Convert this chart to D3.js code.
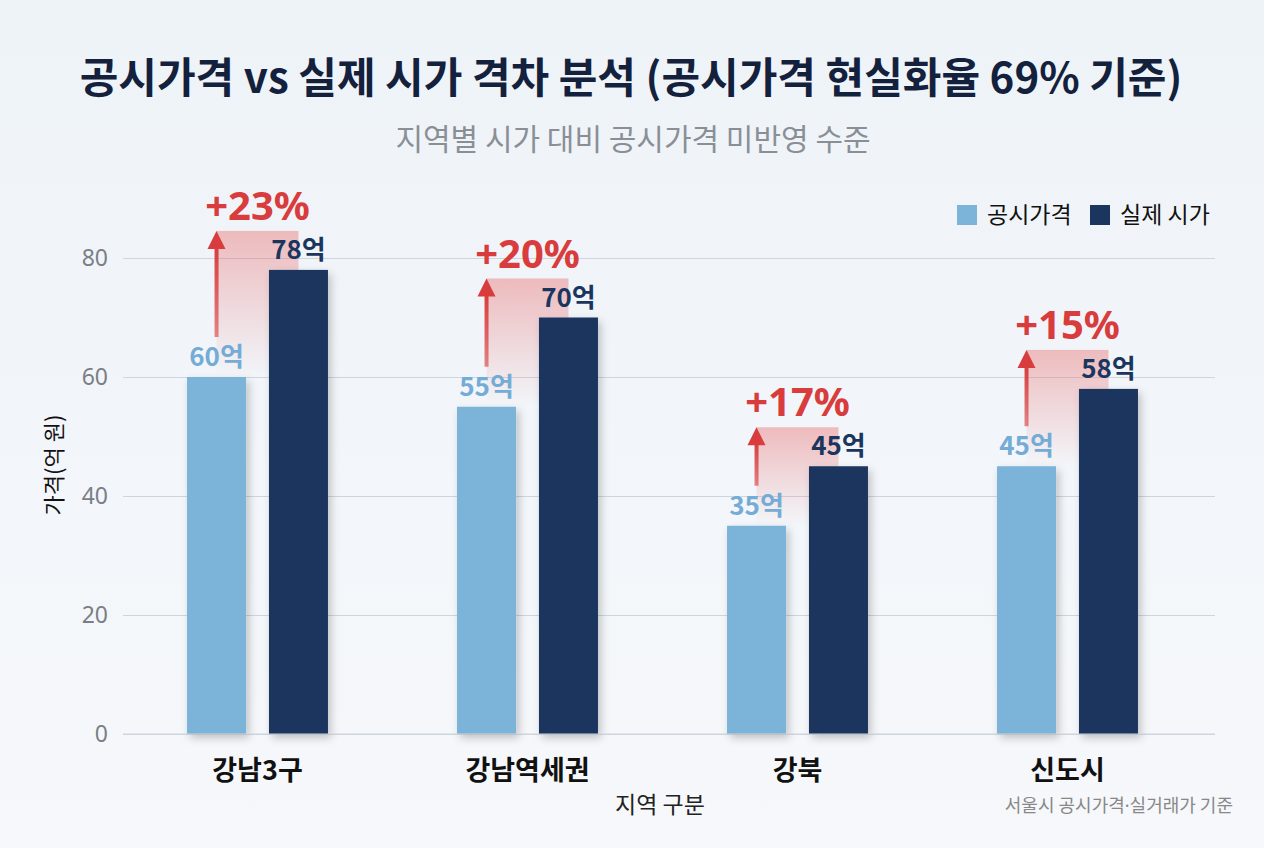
<!DOCTYPE html>
<html>
<head>
<meta charset="utf-8">
<script src="https://cdn.jsdelivr.net/npm/d3@7"></script>
<style>
  html, body { margin: 0; padding: 0; background: #f2f6fa; }
  svg { display: block; font-family: "Noto Sans CJK KR", "Noto Sans", sans-serif; }
</style>
</head>
<body>
<div id="chart"></div>
<script>
// chart values
const regions = ["강남3구", "강남역세권", "강북", "신도시"];
const seriesNames = ["공시가격", "실제 시가"];
const officialPrice = [60, 55, 35, 45];
const marketPrice = [78, 70, 45, 58];
const gapLabels = ["+23%", "+20%", "+17%", "+15%"];
const yTicks = [0, 20, 40, 60, 80];

const W = 1264, H = 848;
const colors = ["#7bb3d9", "#1b365e"];
const red = "#d83c3c";

const margin = { left: 123, right: 49 };
const gridRight = W - margin.right;

const svg = d3.select("#chart").append("svg")
    .attr("width", W)
    .attr("height", H);

const defs = svg.append("defs");
const bg = defs.append("linearGradient").attr("id", "bg").attr("x1", 0).attr("y1", 0).attr("x2", 0).attr("y2", 1);
bg.append("stop").attr("offset", "0%").attr("stop-color", "#eef3f8");
bg.append("stop").attr("offset", "100%").attr("stop-color", "#f6f8fb");

const pink = defs.append("linearGradient").attr("id", "pink").attr("x1", 0).attr("y1", 0).attr("x2", 0).attr("y2", 1);
pink.append("stop").attr("offset", "0%").attr("stop-color", "#e86a6a").attr("stop-opacity", 0.42);
pink.append("stop").attr("offset", "100%").attr("stop-color", "#e86a6a").attr("stop-opacity", 0);

const shaft = defs.append("linearGradient").attr("id", "shaft").attr("x1", 0).attr("y1", 0).attr("x2", 0).attr("y2", 1);
shaft.append("stop").attr("offset", "0%").attr("stop-color", red).attr("stop-opacity", 1);
shaft.append("stop").attr("offset", "100%").attr("stop-color", red).attr("stop-opacity", 0.6);

const shadow = defs.append("filter").attr("id", "shadow")
    .attr("x", "-30%").attr("y", "-10%").attr("width", "160%").attr("height", "130%");
shadow.append("feDropShadow").attr("dx", 3).attr("dy", 4).attr("stdDeviation", 4)
    .attr("flood-color", "#000").attr("flood-opacity", 0.22);

svg.append("rect").attr("width", W).attr("height", H).attr("fill", "url(#bg)");

// title
svg.append("text")
    .attr("x", 631).attr("y", 93)
    .attr("text-anchor", "middle")
    .attr("font-size", 42).attr("font-weight", 700)
    .attr("fill", "#14213d")
    .text("공시가격 vs 실제 시가 격차 분석 (공시가격 현실화율 69% 기준)");

svg.append("text")
    .attr("x", 633).attr("y", 150)
    .attr("text-anchor", "middle")
    .attr("font-size", 30)
    .attr("fill", "#8a8f96")
    .text("지역별 시가 대비 공시가격 미반영 수준");

// scales
const y = d3.scaleLinear().domain([0, 80]).range([734, 258]);
const x0 = d3.scaleBand().domain(regions).range([122.5, 1202.5])
    .paddingInner(0.478).paddingOuter(0.239);
const x1 = d3.scaleBand().domain(seriesNames).range([0, x0.bandwidth()]).paddingInner(0.28);

// grid + y axis
const yAxis = svg.append("g")
    .attr("transform", `translate(${margin.left},0)`)
    .call(d3.axisLeft(y).tickValues(yTicks).tickSize(-(gridRight - margin.left)).tickPadding(15));
yAxis.select(".domain").remove();
yAxis.selectAll(".tick line").attr("stroke", "#cfd5dc").attr("stroke-width", 1);
yAxis.selectAll(".tick text").attr("fill", "#7a7f86").attr("font-size", 23)
    .attr("font-family", "'Noto Sans', sans-serif");

svg.append("text")
    .attr("transform", `translate(62,465) rotate(-90)`)
    .attr("text-anchor", "middle")
    .attr("font-size", 22).attr("fill", "#111")
    .text("가격(억 원)");

// gap annotations (behind bars)
const ann = svg.append("g");
regions.forEach((r, i) => {
    const lx = x0(r) + x1(seriesNames[0]) + x1.bandwidth() / 2;
    const dx = x0(r) + x1(seriesNames[1]) + x1.bandwidth() / 2;
    const top = y(marketPrice[i]) - 39;
    const bottom = y(officialPrice[i]);
    ann.append("rect")
        .attr("x", lx).attr("y", top)
        .attr("width", dx - lx).attr("height", bottom - top)
        .attr("fill", "url(#pink)");
    ann.append("rect")
        .attr("x", lx - 2).attr("y", top + 14)
        .attr("width", 4).attr("height", (y(officialPrice[i]) - 40) - (top + 14))
        .attr("fill", "url(#shaft)");
    ann.append("path")
        .attr("d", `M${lx},${top} L${lx + 9},${top + 18} L${lx - 9},${top + 18} Z`)
        .attr("fill", red);
    ann.append("text")
        .attr("x", x0(r) + x0.bandwidth() / 2).attr("y", top - 11)
        .attr("text-anchor", "middle")
        .attr("font-size", 40).attr("font-weight", 700)
        .attr("font-family", "'Noto Sans', sans-serif")
        .attr("fill", red)
        .text(gapLabels[i]);
});

// bars
const groups = svg.append("g").selectAll("g")
    .data(regions)
    .join("g")
    .attr("transform", d => `translate(${x0(d)},0)`);

const values = [officialPrice, marketPrice];
groups.selectAll("rect")
    .data((d, i) => seriesNames.map((s, k) => ({ s, k, v: values[k][i] })))
    .join("rect")
    .attr("x", d => x1(d.s))
    .attr("y", d => y(d.v))
    .attr("width", x1.bandwidth())
    .attr("height", d => y(0) - y(d.v))
    .attr("fill", d => colors[d.k])
    .attr("filter", "url(#shadow)");

groups.selectAll("text.val")
    .data((d, i) => seriesNames.map((s, k) => ({ s, k, v: values[k][i] })))
    .join("text")
    .attr("class", "val")
    .attr("x", d => x1(d.s) + x1.bandwidth() / 2)
    .attr("y", d => y(d.v) - 11)
    .attr("text-anchor", "middle")
    .attr("font-size", 26).attr("font-weight", 700)
    .attr("fill", d => d.k === 0 ? "#74acd6" : "#1b365e")
    .text(d => d.v + "억");

// baseline
svg.append("line")
    .attr("x1", margin.left).attr("x2", gridRight)
    .attr("y1", y(0)).attr("y2", y(0))
    .attr("stroke", "#cfd5dc");

// x category labels
svg.append("g").selectAll("text")
    .data(regions)
    .join("text")
    .attr("x", d => x0(d) + x0.bandwidth() / 2)
    .attr("y", 780)
    .attr("text-anchor", "middle")
    .attr("font-size", 27).attr("font-weight", 700)
    .attr("fill", "#111")
    .text(d => d);

svg.append("text")
    .attr("x", 660).attr("y", 813)
    .attr("text-anchor", "middle")
    .attr("font-size", 23).attr("fill", "#222")
    .text("지역 구분");

// footer note: narrow middle dot from the Latin font
const note = svg.append("text")
    .attr("x", 1233).attr("y", 812)
    .attr("text-anchor", "end")
    .attr("font-size", 18).attr("fill", "#888");
note.append("tspan").text("서울시 공시가격");
note.append("tspan").attr("font-family", "'Noto Sans', sans-serif").text("·");
note.append("tspan").text("실거래가 기준");

// legend
const legend = svg.append("g");
const legendX = [957, 1090];
seriesNames.forEach((s, k) => {
    legend.append("rect")
        .attr("x", legendX[k]).attr("y", 205)
        .attr("width", 20).attr("height", 20)
        .attr("fill", colors[k]);
    legend.append("text")
        .attr("x", legendX[k] + 30).attr("y", 223)
        .attr("font-size", 23).attr("fill", "#111")
        .text(s);
});
</script>
</body>
</html>
